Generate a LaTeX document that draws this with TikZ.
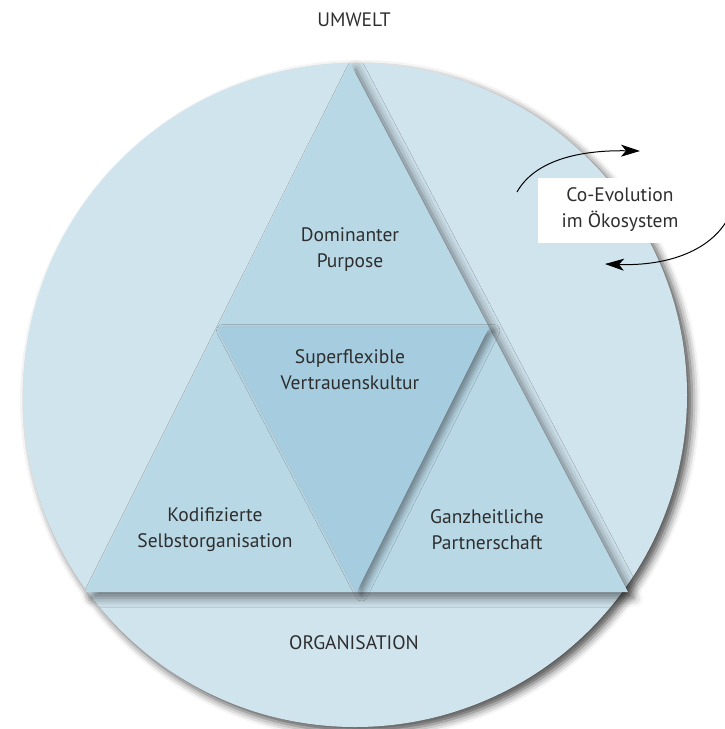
\documentclass[tikz,border=0pt]{standalone}
\usepackage{fontspec}
\setmainfont{PT Sans}
\usetikzlibrary{shadows.blur,arrows.meta}
\definecolor{circfill}{HTML}{D0E4EE}
\definecolor{trifill}{HTML}{B9D8E6}
\definecolor{midfill}{HTML}{A6CCE0}
\definecolor{txt}{HTML}{2E2E2E}
\tikzset{
  lbl/.style={font=\fontsize{19.5}{26}\selectfont, text=txt, align=center, inner sep=0pt},
  arr/.style={-{Stealth[length=19pt,width=12pt,inset=5pt]}, line width=1pt, black},
}
\begin{document}
\begin{tikzpicture}[x=1pt,y=-1pt]
\useasboundingbox (0,0) rectangle (724,729);
% circle
\node[circle, fill=circfill, minimum size=664pt, inner sep=0pt,
  blur shadow={shadow xshift=5pt, shadow yshift=-5pt, shadow blur radius=8pt, shadow opacity=70}] (org) at (355,395) {};
% big triangle
\coordinate (A) at (350,63);
\coordinate (L) at (85,592);
\coordinate (R) at (628,592);
\coordinate (ML) at ($(A)!0.5!(L)$);
\coordinate (MR) at ($(A)!0.5!(R)$);
\coordinate (MB) at ($(L)!0.5!(R)$);
\path[fill=trifill, blur shadow={shadow xshift=6pt, shadow yshift=-6pt, shadow blur radius=9pt, shadow opacity=50}]
  (A) -- (R) -- (L) -- cycle;
% inner triangle
\path[fill=midfill, blur shadow={shadow xshift=5pt, shadow yshift=-3pt, shadow blur radius=6pt, shadow opacity=40}]
  (ML) -- (MR) -- (MB) -- cycle;
% labels
\node[lbl] (umwelt) at (354,20) {UMWELT};
\node[lbl] (purpose) at (350,250) {Dominanter\\Purpose};
\node[lbl] (kultur) at (350,370) {Superflexible\\Vertrauenskultur};
\node[lbl] (selbst) at (215,530) {Kodifizierte\\Selbstorganisation};
\node[lbl] (partner) at (487,530) {Ganzheitliche\\Partnerschaft};
\node[lbl] (orglbl) at (354,643) {ORGANISATION};
% co-evolution
\node[lbl, fill=white, minimum width=165pt, minimum height=65pt] (coevo) at (620,210) {Co-Evolution\\im Ökosystem};
\coordinate (u1) at (517,192);
\coordinate (u2) at (640,151);
\coordinate (l1) at (726,222);
\coordinate (l2) at (605,264);
\draw[arr] (u1) .. controls (535,160) and (580,150) .. (u2);
\draw[arr] (l1) .. controls (705,255) and (660,266) .. (l2);
\end{tikzpicture}
\end{document}
